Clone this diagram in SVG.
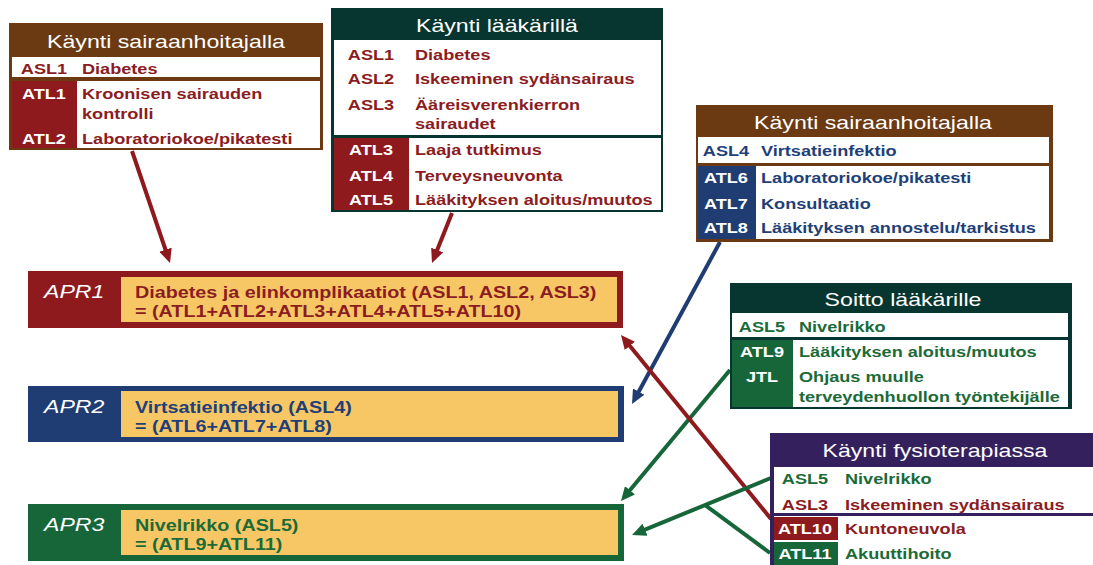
<svg xmlns="http://www.w3.org/2000/svg" width="1093" height="565" viewBox="0 0 1093 565">
<style>
text{font-family:'Liberation Sans',Arial,sans-serif}
.h{font-size:18.5px;fill:#fff;text-anchor:middle}
.t{font-size:14.5px;font-weight:bold}
.m{text-anchor:middle}
.w{fill:#fff}
.r{fill:#8B1C22}
.bl{fill:#1F3F78}
.g{fill:#1B6B38}
.apl{font-size:18.5px;font-style:italic;fill:#fff}
.apt{font-size:15.8px;font-weight:bold}
.cr{stroke:#8E1A1E;stroke-width:4;fill:none}
.cb{stroke:#1F3D73;stroke-width:4;fill:none}
.cg{stroke:#17663A;stroke-width:4;fill:none}
</style>
<defs>
<marker id="ar" markerUnits="userSpaceOnUse" markerWidth="14" markerHeight="13" refX="4" refY="6.5" orient="auto"><path d="M0,0 L14,6.5 L0,13 z" fill="#8E1A1E"/></marker>
<marker id="ab" markerUnits="userSpaceOnUse" markerWidth="14" markerHeight="13" refX="4" refY="6.5" orient="auto"><path d="M0,0 L14,6.5 L0,13 z" fill="#1F3D73"/></marker>
<marker id="ag" markerUnits="userSpaceOnUse" markerWidth="14" markerHeight="13" refX="4" refY="6.5" orient="auto"><path d="M0,0 L14,6.5 L0,13 z" fill="#17663A"/></marker>
</defs>
<rect width="1093" height="565" fill="#fff"/>

<g id="apr1">
<rect x="28" y="271" width="595" height="57" fill="#8E1A1E"/>
<rect x="121" y="277" width="496" height="45" fill="#F7C766"/>
<g transform="scale(1.25,1)">
<text class="apl" x="35.2" y="298">APR1</text>
<text class="apt r" x="108" y="298">Diabetes ja elinkomplikaatiot (ASL1, ASL2, ASL3)</text>
<text class="apt r" x="108" y="317">= (ATL1+ATL2+ATL3+ATL4+ATL5+ATL10)</text>
</g>
</g>

<g id="apr2">
<rect x="28" y="386" width="596" height="56" fill="#1F3D73"/>
<rect x="121" y="391" width="497" height="46" fill="#F7C766"/>
<g transform="scale(1.25,1)">
<text class="apl" x="35.2" y="413">APR2</text>
<text class="apt bl" x="108" y="413">Virtsatieinfektio (ASL4)</text>
<text class="apt bl" x="108" y="432">= (ATL6+ATL7+ATL8)</text>
</g>
</g>

<g id="apr3">
<rect x="28" y="504" width="596" height="57" fill="#17663A"/>
<rect x="121" y="510" width="497" height="45" fill="#F7C766"/>
<g transform="scale(1.25,1)">
<text class="apl" x="35.2" y="531">APR3</text>
<text class="apt g" x="108" y="531">Nivelrikko (ASL5)</text>
<text class="apt g" x="108" y="550">= (ATL9+ATL11)</text>
</g>
</g>

<g id="connectors">
<line class="cr" x1="132" y1="151" x2="166.8" y2="253.5" marker-end="url(#ar)"/>
<line class="cr" x1="452" y1="213" x2="435.7" y2="253.7" marker-end="url(#ar)"/>
<line class="cb" x1="720" y1="242" x2="636.8" y2="395.2" marker-end="url(#ab)"/>
<line class="cg" x1="730" y1="370" x2="627.4" y2="493.3" marker-end="url(#ag)"/>
<line class="cr" x1="771" y1="519" x2="627.3" y2="342.7" marker-end="url(#ar)"/>
<line class="cg" x1="771" y1="478" x2="641.3" y2="531.2" marker-end="url(#ag)"/>
<line class="cg" x1="770" y1="553" x2="705" y2="505"/>
</g>

<g id="box1">
<rect x="9" y="23" width="314" height="127" fill="#6B3A12"/>
<rect x="12" y="57" width="308" height="20" fill="#fff"/>
<rect x="12" y="81" width="65" height="67" fill="#8E1A1E"/>
<rect x="77" y="81" width="243" height="67" fill="#fff"/>
<g transform="scale(1.25,1)">
<text class="h" x="132.8" y="48">Käynti sairaanhoitajalla</text>
<text class="t m r" x="35.2" y="74">ASL1</text>
<text class="t r" x="65.6" y="74">Diabetes</text>
<text class="t m w" x="35.2" y="99">ATL1</text>
<text class="t r" x="65.6" y="99">Kroonisen sairauden</text>
<text class="t r" x="65.6" y="119">kontrolli</text>
<text class="t m w" x="35.2" y="144">ATL2</text>
<text class="t r" x="65.6" y="144">Laboratoriokoe/pikatesti</text>
</g>
</g>

<g id="box2">
<rect x="331" y="8" width="332" height="204" fill="#073530"/>
<rect x="334" y="40" width="327" height="95" fill="#fff"/>
<rect x="334" y="138" width="75" height="72" fill="#8E1A1E"/>
<rect x="409" y="138" width="252" height="72" fill="#fff"/>
<g transform="scale(1.25,1)">
<text class="h" x="397.6" y="32">Käynti lääkärillä</text>
<text class="t m r" x="296.8" y="60">ASL1</text>
<text class="t r" x="332" y="60">Diabetes</text>
<text class="t m r" x="296.8" y="84">ASL2</text>
<text class="t r" x="332" y="84">Iskeeminen sydänsairaus</text>
<text class="t m r" x="296.8" y="110">ASL3</text>
<text class="t r" x="332" y="110">Ääreisverenkierron</text>
<text class="t r" x="332" y="129">sairaudet</text>
<text class="t m w" x="296.8" y="155">ATL3</text>
<text class="t r" x="332" y="155">Laaja tutkimus</text>
<text class="t m w" x="296.8" y="181">ATL4</text>
<text class="t r" x="332" y="181">Terveysneuvonta</text>
<text class="t m w" x="296.8" y="205">ATL5</text>
<text class="t r" x="332" y="205">Lääkityksen aloitus/muutos</text>
</g>
</g>

<g id="box3">
<rect x="696" y="105" width="357" height="137" fill="#6B3A12"/>
<rect x="698" y="137" width="351" height="26" fill="#fff"/>
<rect x="698" y="166" width="58" height="73" fill="#1F3D73"/>
<rect x="756" y="166" width="293" height="73" fill="#fff"/>
<g transform="scale(1.25,1)">
<text class="h" x="698.4" y="129">Käynti sairaanhoitajalla</text>
<text class="t m bl" x="580.8" y="156">ASL4</text>
<text class="t bl" x="608.8" y="156">Virtsatieinfektio</text>
<text class="t m w" x="580.8" y="183">ATL6</text>
<text class="t bl" x="608.8" y="183">Laboratoriokoe/pikatesti</text>
<text class="t m w" x="580.8" y="209">ATL7</text>
<text class="t bl" x="608.8" y="209">Konsultaatio</text>
<text class="t m w" x="580.8" y="233">ATL8</text>
<text class="t bl" x="608.8" y="233">Lääkityksen annostelu/tarkistus</text>
</g>
</g>

<g id="box4">
<rect x="730" y="283" width="342" height="126" fill="#073530"/>
<rect x="732" y="313" width="336" height="24" fill="#fff"/>
<rect x="732" y="340" width="61" height="67" fill="#17663A"/>
<rect x="793" y="340" width="275" height="67" fill="#fff"/>
<g transform="scale(1.25,1)">
<text class="h" x="722.4" y="306">Soitto lääkärille</text>
<text class="t m g" x="609.6" y="332">ASL5</text>
<text class="t g" x="639.2" y="332">Nivelrikko</text>
<text class="t m w" x="609.6" y="357">ATL9</text>
<text class="t g" x="639.2" y="357">Lääkityksen aloitus/muutos</text>
<text class="t m w" x="609.6" y="382">JTL</text>
<text class="t g" x="639.2" y="382">Ohjaus muulle</text>
<text class="t g" x="639.2" y="402">terveydenhuollon työntekijälle</text>
</g>
</g>

<g id="box5">
<rect x="770" y="433" width="323" height="34" fill="#35205E"/>
<rect x="770" y="433" width="4" height="132" fill="#35205E"/>
<rect x="770" y="513" width="323" height="3" fill="#35205E"/>
<rect x="774" y="517" width="64" height="23" fill="#8E1A1E"/>
<rect x="774" y="542" width="64" height="23" fill="#17663A"/>
<g transform="scale(1.25,1)">
<text class="h" x="748" y="457">Käynti fysioterapiassa</text>
<text class="t m g" x="644" y="484">ASL5</text>
<text class="t g" x="676" y="484">Nivelrikko</text>
<text class="t m r" x="644" y="510">ASL3</text>
<text class="t r" x="676" y="510">Iskeeminen sydänsairaus</text>
<text class="t m w" x="644" y="534">ATL10</text>
<text class="t r" x="676" y="534">Kuntoneuvola</text>
<text class="t m w" x="644" y="559">ATL11</text>
<text class="t g" x="676" y="559">Akuuttihoito</text>
</g>
</g>
</svg>
